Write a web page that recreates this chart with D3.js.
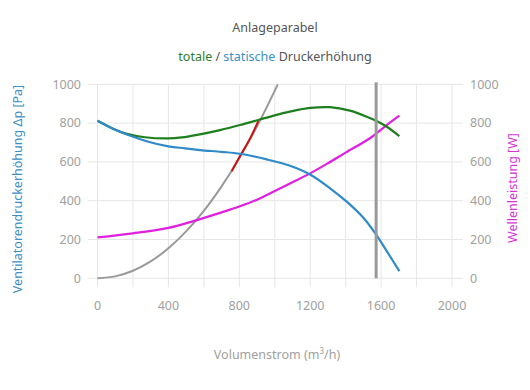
<!DOCTYPE html>
<html>
<head>
<meta charset="utf-8">
<script src="https://cdn.jsdelivr.net/npm/d3@7"></script>
<style>
  body { margin: 0; background: #fff; }
  text { font-family: "Noto Sans", sans-serif; }
</style>
</head>
<body>
<svg id="chart" width="530" height="390"></svg>
<script>
// static pressure (blue)
const staticFlow = [0, 90, 174, 287, 400, 494, 580, 700, 804, 955, 1086, 1199, 1312, 1406, 1500, 1572, 1632, 1703];
const staticP = [812, 770, 739, 704, 680, 670, 661, 652, 642, 613, 580, 535, 464, 395, 312, 225, 140, 37];
// total pressure (green)
const totalFlow = [0, 90, 160, 268, 400, 475, 578, 691, 804, 907, 1000, 1086, 1199, 1312, 1424, 1519, 1572, 1632, 1703];
const totalP = [812, 770, 746, 727, 721, 726, 742, 764, 790, 816, 840, 859, 878, 882, 864, 833, 812, 781, 733];
// shaft power (magenta)
const powerFlow = [0, 200, 400, 541, 700, 800, 900, 1000, 1100, 1200, 1300, 1400, 1537, 1632, 1703];
const powerW = [211, 232, 260, 295, 340, 370, 405, 450, 495, 541, 593, 648, 722, 790, 838];
// system curve (grey) and its red working range
const sysFlow = [0, 100, 200, 300, 400, 500, 600, 700, 800, 900, 1000, 1017];
const sysP = [0, 10, 39, 87, 155, 242, 348, 474, 619, 783, 967, 1000];
const redFlow = [757, 804, 860, 907];
const redP = [552, 630, 720, 810];
const limitFlow = 1572;
const xTicks = [0, 400, 800, 1200, 1600, 2000];
const yTicks = [0, 200, 400, 600, 800, 1000];

const svg = d3.select("#chart");
const x = d3.scaleLinear().domain([0, 2000]).range([97.5, 452]);
const y = d3.scaleLinear().domain([0, 1000]).range([278.3, 84.3]);

// grid
svg.append("g").selectAll("line").data(d3.range(0, 2001, 200)).join("line")
  .attr("x1", d => x(d)).attr("x2", d => x(d)).attr("y1", y(1000)).attr("y2", y(0) + 9)
  .attr("stroke", "#e6e6e6").attr("stroke-width", 1);
svg.append("g").selectAll("line").data(yTicks).join("line")
  .attr("x1", x(0) - 10).attr("x2", x(2000) + 11).attr("y1", d => y(d)).attr("y2", d => y(d))
  .attr("stroke", "#e6e6e6").attr("stroke-width", 1);

// tick labels
svg.append("g").selectAll("text").data(yTicks).join("text")
  .attr("x", 81).attr("y", d => y(d)).attr("dy", "0.35em").attr("text-anchor", "end")
  .attr("fill", "#a0a0a0").attr("font-size", 12.5).text(d => d);
svg.append("g").selectAll("text").data(yTicks).join("text")
  .attr("x", 470).attr("y", d => y(d)).attr("dy", "0.35em").attr("text-anchor", "start")
  .attr("fill", "#a0a0a0").attr("font-size", 12.5).text(d => d);
svg.append("g").selectAll("text").data(xTicks).join("text")
  .attr("x", d => x(d)).attr("y", 306).attr("dy", "0.35em").attr("text-anchor", "middle")
  .attr("fill", "#a0a0a0").attr("font-size", 12.5).text(d => d);

// titles
svg.append("text").attr("x", 275).attr("y", 32).attr("text-anchor", "middle")
  .attr("fill", "#555").attr("font-size", 12.5).text("Anlageparabel");
const sub = svg.append("text").attr("x", 275).attr("y", 61).attr("text-anchor", "middle").attr("font-size", 12.5);
sub.append("tspan").attr("fill", "#2e7d2e").text("totale");
sub.append("tspan").attr("fill", "#555").text(" / ");
sub.append("tspan").attr("fill", "#3a8fc4").text("statische");
sub.append("tspan").attr("fill", "#555").text(" Druckerhöhung");

svg.append("text").attr("transform", "translate(22,189) rotate(-90)").attr("text-anchor", "middle")
  .attr("fill", "#3a8fc4").attr("font-size", 12.5).text("Ventilatorendruckerhöhung Δp [Pa]");
svg.append("text").attr("transform", "translate(517,188) rotate(-90)").attr("text-anchor", "middle")
  .attr("fill", "#d633d6").attr("font-size", 12.5).text("Wellenleistung [W]");
const xt = svg.append("text").attr("x", 277).attr("y", 359).attr("text-anchor", "middle")
  .attr("fill", "#a0a0a0").attr("font-size", 12.5);
xt.append("tspan").text("Volumenstrom (m");
xt.append("tspan").attr("font-size", 8).attr("dy", -5).text("3");
xt.append("tspan").attr("dy", 5).text("/h)");

// curves
const line = d3.line().x(d => x(d[0])).y(d => y(d[1])).curve(d3.curveCatmullRom);
function drawCurve(xs, ys, color, w) {
  svg.append("path").datum(d3.zip(xs, ys)).attr("d", line)
    .attr("fill", "none").attr("stroke", color).attr("stroke-width", w);
}
drawCurve(sysFlow, sysP, "#999999", 2);
drawCurve(redFlow, redP, "#cc1111", 2);
drawCurve(powerFlow, powerW, "#e020e0", 2.2);
drawCurve(totalFlow, totalP, "#1e7f1e", 2.2);
drawCurve(staticFlow, staticP, "#2f8ac8", 2.2);

// limit line
svg.append("line").attr("x1", x(limitFlow)).attr("x2", x(limitFlow))
  .attr("y1", y(1000) - 2).attr("y2", y(0))
  .attr("stroke", "#999999").attr("stroke-width", 3);
</script>
</body>
</html>
